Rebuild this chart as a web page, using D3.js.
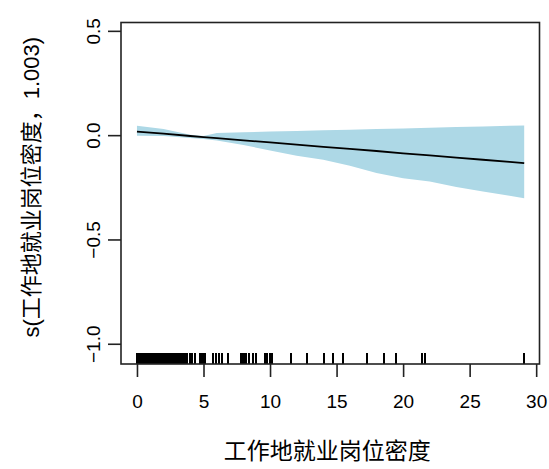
<!DOCTYPE html>
<html>
<head>
<meta charset="utf-8">
<script src="https://cdn.jsdelivr.net/npm/d3@7"></script>
<style>
  body { margin: 0; background: #fff; }
  text { font-family: "Liberation Sans", Arial, "Noto Sans CJK SC", sans-serif; fill: #000; }
</style>
</head>
<body>
<div id="chart"></div>
<script>
// smooth term: x grid, fit and the shaded band
var gridX = [0, 2, 4, 5, 6, 8, 10, 12, 14, 16, 18, 20, 22, 24, 26, 28, 29.1];
var fitY  = [0.017, 0.007, -0.004, -0.009, -0.014, -0.025, -0.035, -0.045, -0.056, -0.066, -0.076, -0.087, -0.097, -0.108, -0.118, -0.128, -0.134];
var upperY = [0.045, 0.029, 0.002, -0.004, 0.010, 0.014, 0.017, 0.020, 0.023, 0.026, 0.029, 0.032, 0.035, 0.039, 0.042, 0.045, 0.046];
var lowerY = [-0.003, -0.004, -0.014, -0.019, -0.026, -0.047, -0.074, -0.099, -0.118, -0.147, -0.182, -0.206, -0.222, -0.249, -0.270, -0.291, -0.302];

// rug of observed values
var rugX = [0.02, 0.1, 0.18, 0.26, 0.34, 0.42, 0.5, 0.58, 0.66, 0.74, 0.82, 0.9, 0.98, 1.06, 1.14, 1.22, 1.3, 1.38, 1.46, 1.54, 1.62, 1.7, 1.78, 1.86, 1.94, 2.02, 2.1, 2.18, 2.26, 2.32,
            2.5, 2.58, 2.66, 2.74, 2.82, 2.9, 2.98, 3.06, 3.14, 3.22, 3.3, 3.38, 3.46, 3.54, 3.62, 3.7, 3.76,
            3.95, 4.15, 4.33, 4.76, 4.84, 4.92, 5.0, 5.08, 5.13,
            5.71, 5.96, 6.13, 6.38, 6.81, 7.8, 7.88, 7.96, 8.04, 8.12, 8.19,
            8.44, 8.69, 8.96, 9.64, 9.77, 10.02, 10.17,
            11.6, 12.77, 14.02, 14.7, 15.5, 17.28, 18.53, 19.48, 21.41, 21.66, 29.05];

var xTicks = [0, 5, 10, 15, 20, 25, 30];
var yTicks = [-1.0, -0.5, 0.0, 0.5];
var xTitle = "工作地就业岗位密度";
var yTitle = "s(工作地就业岗位密度，1.003)";

var WIDTH = 549;
var HEIGHT = 469;
var MARGINS = {top: 22.5, right: 9.5, bottom: 105, left: 121};

var svg = d3.select("#chart").append("svg")
    .attr("width", WIDTH)
    .attr("height", HEIGHT);

var xScale = d3.scaleLinear()
    .domain([-1.2, 30.25])
    .range([MARGINS.left, WIDTH - MARGINS.right]);
var yScale = d3.scaleLinear()
    .domain([-1.097, 0.54])
    .range([HEIGHT - MARGINS.bottom, MARGINS.top]);

var band = gridX.map(function(x, i) { return {x: x, lo: lowerY[i], hi: upperY[i], f: fitY[i]}; });

svg.append("path")
    .datum(band)
    .attr("d", d3.area()
        .x(function(d) { return xScale(d.x); })
        .y0(function(d) { return yScale(d.lo); })
        .y1(function(d) { return yScale(d.hi); }))
    .style("fill", "#add8e6")
    .style("stroke", "none");

svg.append("path")
    .datum(band)
    .attr("d", d3.line()
        .x(function(d) { return xScale(d.x); })
        .y(function(d) { return yScale(d.f); }))
    .style("fill", "none")
    .style("stroke", "#000")
    .style("stroke-width", 1.8);

// rug
var rugBase = yScale.range()[0];
svg.append("g")
    .selectAll("line")
    .data(rugX)
    .enter().append("line")
    .attr("x1", function(d) { return xScale(d); })
    .attr("x2", function(d) { return xScale(d); })
    .attr("y1", rugBase)
    .attr("y2", rugBase - 11)
    .attr("shape-rendering", "crispEdges")
    .style("stroke", "#000")
    .style("stroke-width", 2);

// axes
var xAxis = d3.axisBottom(xScale).tickValues(xTicks).tickSize(13).tickPadding(18)
    .tickFormat(d3.format("d"));
var gx = svg.append("g")
    .attr("transform", "translate(0," + rugBase + ")")
    .call(xAxis);
gx.select(".domain").remove();
gx.selectAll(".tick line").style("stroke", "#222").style("stroke-width", 1.6);
gx.selectAll(".tick text").style("font-size", "19px").style("fill", "#000");

var yAxis = d3.axisLeft(yScale).tickValues(yTicks).tickSize(13)
    .tickFormat(d3.format(".1f"));
var gy = svg.append("g")
    .attr("transform", "translate(" + MARGINS.left + ",0)")
    .call(yAxis);
gy.select(".domain").remove();
gy.selectAll(".tick line").style("stroke", "#222").style("stroke-width", 1.6);
gy.selectAll(".tick text")
    .attr("x", null).attr("dy", null)
    .attr("text-anchor", "middle")
    .attr("transform", "translate(-21,0) rotate(-90)")
    .style("font-size", "19px")
    .style("fill", "#000");

// box
svg.append("rect")
    .attr("x", MARGINS.left)
    .attr("y", MARGINS.top)
    .attr("width", WIDTH - MARGINS.left - MARGINS.right)
    .attr("height", HEIGHT - MARGINS.top - MARGINS.bottom)
    .style("fill", "none")
    .style("stroke", "#222")
    .style("stroke-width", 1.6);

// titles
svg.append("text")
    .attr("x", (xScale.range()[0] + xScale.range()[1]) / 2 - 3)
    .attr("y", 459)
    .attr("text-anchor", "middle")
    .style("font-family", "'Noto Sans CJK SC', sans-serif")
    .style("font-size", "23px")
    .text(xTitle);

svg.append("text")
    .attr("transform", "translate(39," + ((yScale.range()[0] + yScale.range()[1]) / 2 - 6) + ") rotate(-90)")
    .attr("text-anchor", "middle")
    .style("font-size", "22px")
    .text(yTitle);
</script>
</body>
</html>
